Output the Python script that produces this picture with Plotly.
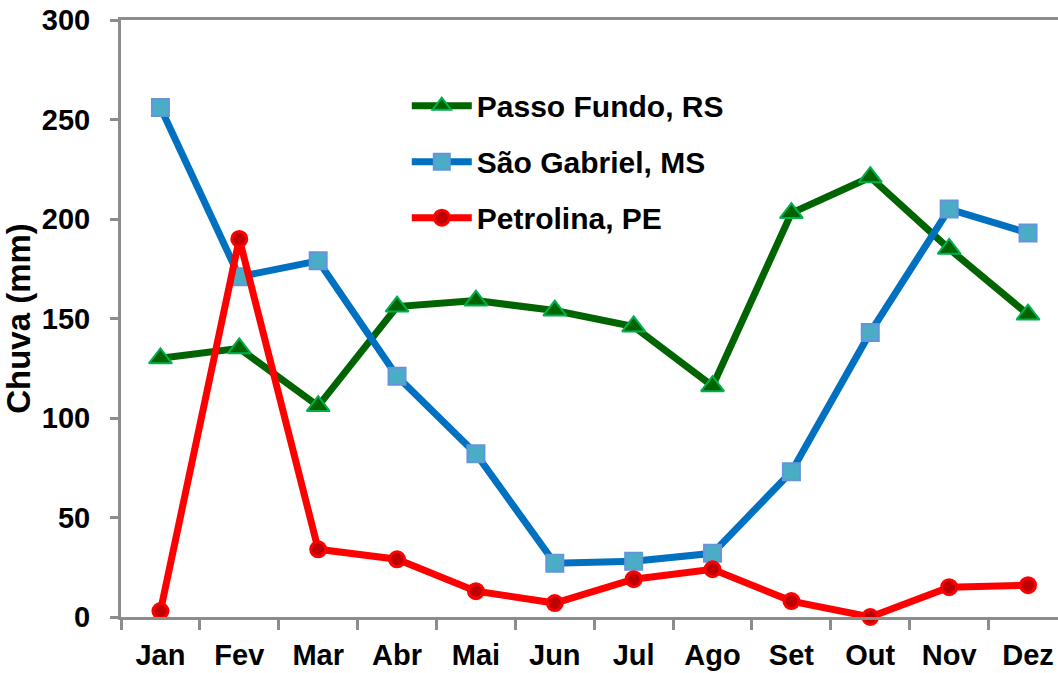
import plotly.graph_objects as go

months = ["Jan", "Fev", "Mar", "Abr", "Mai", "Jun", "Jul", "Ago", "Set", "Out", "Nov", "Dez"]
passo_fundo = [130, 135, 106, 156, 159, 154, 146, 116, 203, 221, 185, 152]
sao_gabriel = [256, 171, 179, 121, 82, 27, 28, 32, 73, 143, 205, 193]
petrolina = [3, 190, 34, 29, 13, 7, 19, 24, 8, 0, 15, 16]
y_ticks = [0, 50, 100, 150, 200, 250, 300]

FONT = "Liberation Sans, Arial, sans-serif"
AXIS_GRAY = "#8C8C8C"

fig = go.Figure()
fig.add_trace(go.Scatter(
    x=months, y=passo_fundo, name="Passo Fundo, RS", mode="lines+markers",
    line=dict(color="#006400", width=7),
    marker=dict(symbol="triangle-up", size=20, color="#006400",
                line=dict(color="#00B050", width=2)),
    cliponaxis=False, legendgroup="a",
))
fig.add_trace(go.Scatter(
    x=months, y=sao_gabriel, name="São Gabriel, MS", mode="lines+markers",
    line=dict(color="#0070C0", width=7),
    marker=dict(symbol="square", size=17, color="#4BACC6",
                line=dict(color="#6495DC", width=2)),
    cliponaxis=False, legendgroup="b",
))
fig.add_trace(go.Scatter(
    x=months, y=petrolina, name="Petrolina, PE", mode="lines+markers",
    line=dict(color="#FF0000", width=7),
    marker=dict(symbol="circle", size=15, color="#C00000",
                line=dict(color="#FF0000", width=3)),
    cliponaxis=False, legendgroup="c",
))

fig.update_layout(
    width=1058, height=673,
    margin=dict(l=121, r=0, t=20, b=56, autoexpand=False),
    paper_bgcolor="white", plot_bgcolor="white",
    font=dict(family=FONT, size=29, color="black", weight="bold"),
    showlegend=True,
    legend=dict(
        x=0.305, y=0.9, xanchor="left", yanchor="top",
        bgcolor="rgba(0,0,0,0)", traceorder="grouped", tracegroupgap=14,
        font=dict(family=FONT, size=30, color="black", weight="bold"),
        itemwidth=60,
    ),
    xaxis=dict(
        type="category", range=[-0.5, 11.38], automargin=False,
        showline=True, linecolor=AXIS_GRAY, linewidth=3,
        mirror=True,
        ticks="outside", tickson="boundaries", ticklen=10, tickwidth=3, tickcolor=AXIS_GRAY,
        showgrid=False, zeroline=False, ticklabeloverflow="allow",
        ticklabelstandoff=10,
        tickfont=dict(family=FONT, size=29, color="black", weight="bold"),
    ),
    yaxis=dict(
        range=[0, 300], tickvals=y_ticks, automargin=False,
        showline=True, linecolor=AXIS_GRAY, linewidth=3,
        ticks="outside", ticklen=8, tickwidth=3, tickcolor=AXIS_GRAY,
        showgrid=False, zeroline=False, ticklabeloverflow="allow",
        ticklabelstandoff=14,
        tickfont=dict(family=FONT, size=29, color="black", weight="bold"),
        title=dict(text="Chuva (mm)", standoff=3,
                   font=dict(family=FONT, size=33, color="black", weight="bold")),
    ),
)

fig.write_html(
    "out.html",
    config={"displayModeBar": False},
    post_script="document.body.style.margin='0';document.body.style.overflow='hidden';",
)
